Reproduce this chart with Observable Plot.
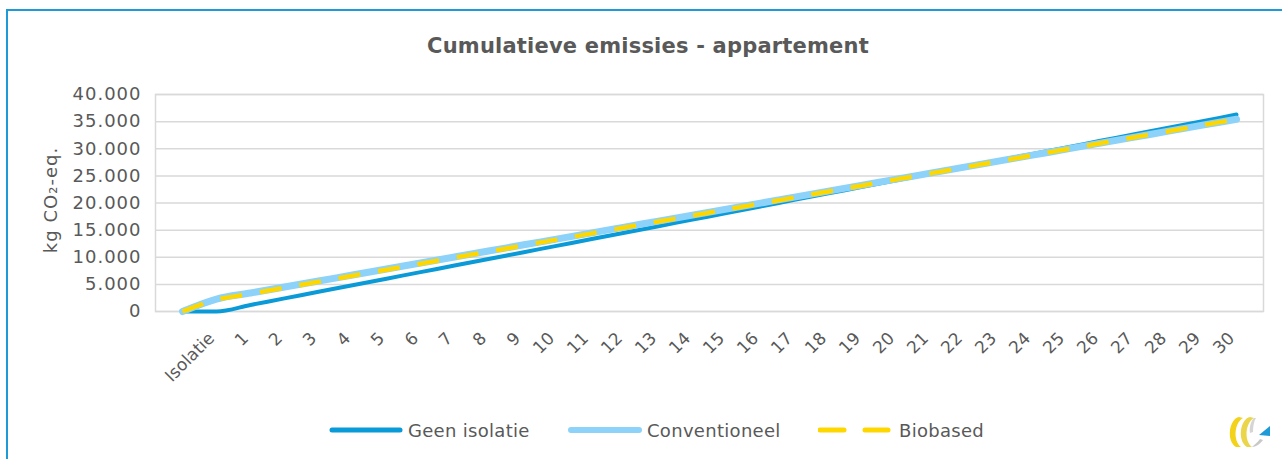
<!DOCTYPE html>
<html>
<head>
<meta charset="utf-8">
<script src="https://cdn.jsdelivr.net/npm/d3@7"></script>
<script src="https://cdn.jsdelivr.net/npm/@observablehq/plot@0.6"></script>
<style>
  html, body { margin: 0; padding: 0; background: #fff; }
  #wrap { position: relative; width: 1282px; height: 459px; overflow: hidden; font-family: "DejaVu Sans", sans-serif; color: #595959; }
  #frameTop { position: absolute; left: 6px; top: 9px; width: 1290px; height: 0; border-top: 2px solid #1E9AD8; }
  #frameLeft { position: absolute; left: 6px; top: 9px; width: 0; height: 470px; border-left: 2px solid #1E9AD8; }
  #title { position: absolute; left: 0; width: 1296px; top: 34px; text-align: center; font-size: 21px; font-weight: bold; color: #595959; letter-spacing: 0.2px; }
  #ylab { position: absolute; left: 50px; top: 200px; transform: translate(-50%, -50%) rotate(-90deg); font-size: 18px; letter-spacing: 1px; white-space: nowrap; color: #595959; }
  #chart { position: absolute; left: 0; top: 0; }
  .leg { position: absolute; top: 418px; height: 24px; display: flex; align-items: center; font-size: 18px; letter-spacing: 0.3px; color: #595959; white-space: nowrap; }
  .leg svg { margin-right: 5px; }
  #logo { position: absolute; left: 1226px; top: 415px; }
</style>
</head>
<body>
<div id="wrap">
  <div id="frameTop"></div>
  <div id="frameLeft"></div>
  <div id="chart"></div>
  <div id="title">Cumulatieve emissies - appartement</div>
  <div id="ylab">kg CO₂-eq.</div>
  <div id="legend"></div>
  <svg id="logo" width="46" height="34" viewBox="0 0 46 34">
    <path d="M13 2 C3 4 0 26 10 32 L15 32 C7 26 8 8 17 3 Z" fill="#F3D21A"/>
    <path d="M24 2 C14 4 11 26 21 32 L26 32 C18 26 19 8 28 3 Z" fill="#EBD54A"/>
    <path d="M26 32 C30 32 34 29 37 25 L34 24 C31 28 28 30 26 32 Z" fill="#C8C8C8"/>
    <path d="M28 3 C25 6 23 12 24 18 L27 17 C27 11 28 6 30 3 Z" fill="#D5D5D5"/>
    <path d="M33 20 L44 11 L44 21 Z" fill="#1E9AD8"/>
  </svg>
</div>
<script>
const categories = ["", "Isolatie", "1", "2", "3", "4", "5", "6", "7", "8", "9", "10",
  "11", "12", "13", "14", "15", "16", "17", "18", "19", "20",
  "21", "22", "23", "24", "25", "26", "27", "28", "29", "30"];

const geenIsolatie = [0, 0, 1210, 2420, 3630, 4840, 6050, 7260, 8470, 9680, 10890,
  12100, 13310, 14520, 15730, 16940, 18150, 19360, 20570, 21780, 22990,
  24200, 25410, 26620, 27830, 29040, 30250, 31460, 32670, 33880, 35090, 36300];

const conventioneel = [0, 2300, 3405, 4510, 5615, 6720, 7825, 8930, 10035, 11140, 12245,
  13350, 14455, 15560, 16665, 17770, 18875, 19980, 21085, 22190, 23295,
  24400, 25505, 26610, 27715, 28820, 29925, 31030, 32135, 33240, 34345, 35450];

const biobased = [0, 2150, 3260, 4370, 5480, 6590, 7700, 8810, 9920, 11030, 12140,
  13250, 14360, 15470, 16580, 17690, 18800, 19910, 21020, 22130, 23240,
  24350, 25460, 26570, 27680, 28790, 29900, 31010, 32120, 33230, 34340, 35450];

const yTicks = [0, 5000, 10000, 15000, 20000, 25000, 30000, 35000, 40000];

const seriesNames = ["Geen isolatie", "Conventioneel", "Biobased"];
const seriesColors = ["#0A9AD7", "#8DD2F8", "#FFD700"];

const locale = d3.formatLocale({decimal: ",", thousands: ".", grouping: [3], currency: ["€", ""]});
const fmt = locale.format(",d");

const toRows = (vals) => categories.map((c, i) => ({cat: c, v: vals[i]}));
const rowsGeen = toRows(geenIsolatie);
const rowsConv = toRows(conventioneel);
const rowsBio = toRows(biobased);

const W = 1282, H = 400;
const plot = Plot.plot({
  width: W,
  height: H,
  marginLeft: 155,
  marginRight: 19,
  marginTop: 94,
  marginBottom: H - 311,
  style: {fontFamily: "DejaVu Sans, sans-serif", fontSize: "17px", color: "#595959", background: "transparent", overflow: "visible"},
  x: {type: "point", domain: categories, padding: 0.5},
  y: {domain: [0, 40000]},
  marks: [
    Plot.gridY(yTicks, {stroke: "#D9D9D9", strokeOpacity: 1, strokeWidth: 1.5}),
    Plot.frame({stroke: "#D9D9D9", strokeWidth: 1.5}),
    Plot.axisY(yTicks, {tickFormat: fmt, tickSize: 0, tickPadding: 14, label: null, fontSize: 18, fill: "#595959"}),
    Plot.axisX({tickRotate: -45, tickSize: 0, tickPadding: 14, dx: -5, dy: 10, label: null, fontSize: 17, fill: "#595959"}),
    Plot.line(rowsGeen, {x: "cat", y: "v", stroke: seriesColors[0], strokeWidth: 4, curve: "monotone-x", strokeLinecap: "round"}),
    Plot.line(rowsConv, {x: "cat", y: "v", stroke: seriesColors[1], strokeWidth: 7, curve: "monotone-x", strokeLinecap: "round"}),
    Plot.line(rowsBio, {x: "cat", y: "v", stroke: seriesColors[2], strokeWidth: 4.5, strokeDasharray: "22,18", curve: "monotone-x", strokeLinecap: "butt"})
  ]
});
plot.querySelectorAll("g[aria-label='y-axis tick label'] text").forEach(t => t.setAttribute("letter-spacing", "1"));
document.getElementById("chart").appendChild(plot);

// Legend
const legend = document.getElementById("legend");
const legPos = [329, 568, 818];
seriesNames.forEach((name, i) => {
  const d = document.createElement("div");
  d.className = "leg";
  d.style.left = legPos[i] + "px";
  let sw;
  if (i < 2) {
    sw = `<svg width="74" height="10"><line x1="3" y1="5" x2="71" y2="5" stroke="${seriesColors[i]}" stroke-width="${i === 0 ? 5 : 6}" stroke-linecap="round"/></svg>`;
  } else {
    sw = `<svg width="76" height="10"><line x1="2" y1="5" x2="26" y2="5" stroke="${seriesColors[i]}" stroke-width="5" stroke-linecap="round"/><line x1="47" y1="5" x2="70" y2="5" stroke="${seriesColors[i]}" stroke-width="5" stroke-linecap="round"/></svg>`;
  }
  d.innerHTML = sw + `<span>${name}</span>`;
  legend.appendChild(d);
});
</script>
</body>
</html>
